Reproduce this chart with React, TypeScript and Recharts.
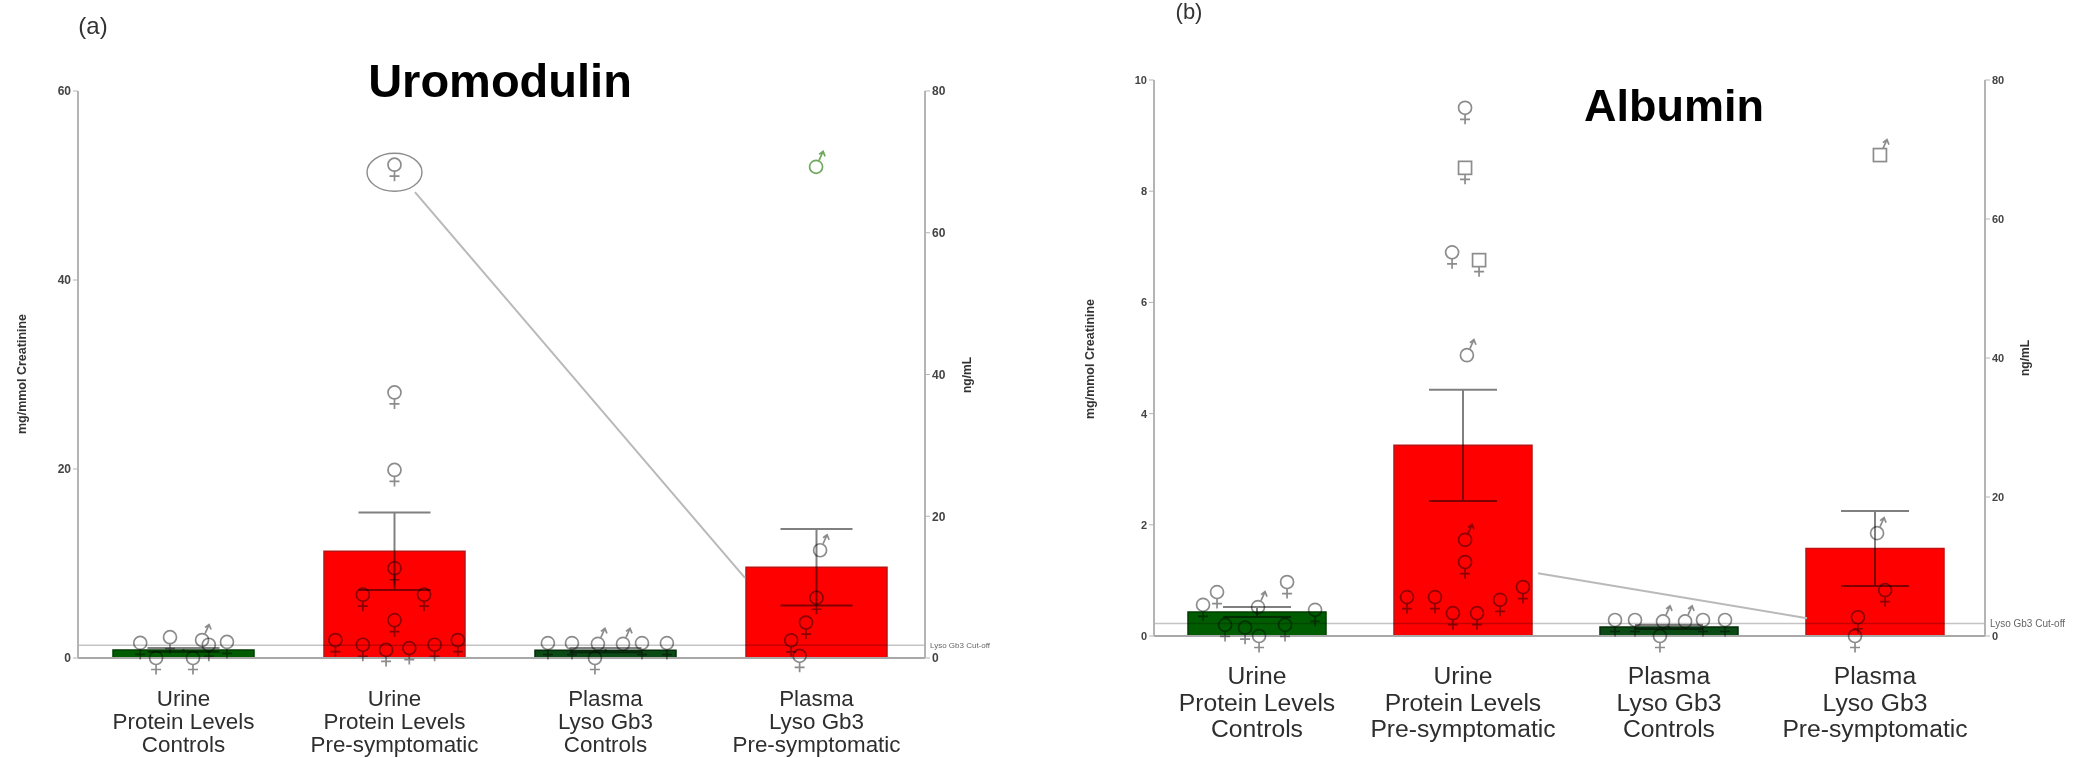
import {
  Bar,
  Cell,
  ComposedChart,
  ErrorBar,
  ReferenceLine,
  Scatter,
  XAxis,
  YAxis,
} from "recharts";

// ─── Data ────────────────────────────────────────────────────────────────────

const categories = [
  "Urine|Protein Levels|Controls",
  "Urine|Protein Levels|Pre-symptomatic",
  "Plasma|Lyso Gb3|Controls",
  "Plasma|Lyso Gb3|Pre-symptomatic",
];

// urine bars read on the left axis (mg/mmol creatinine), plasma on the right (ng/mL)
const aUrine = [0.85, 11.3, null, null];
const aUrineErr = [0.2, 4.1, null, null];
const aPlasma = [null, null, 1.1, 12.8];
const aPlasmaErr = [null, null, 0.3, 5.4];
const bUrine = [0.43, 3.43, null, null];
const bUrineErr = [0.09, 1.0, null, null];
const bPlasma = [null, null, 1.3, 12.6];
const bPlasmaErr = [null, null, 0.3, 5.4];

const cutoffValue = 1.8;

// individual patients: [position along the four groups, value]
type Pt = [number, number];

const aUrineFemale: Pt[] = [
  [0.295, 1.6], [0.436, 2.2], [0.706, 1.7], [0.37, 0], [0.545, 0], [0.62, 1.4],
  [1.5, 52.2], [1.5, 28.1], [1.5, 19.9], [1.5, 9.5], [1.35, 6.7], [1.64, 6.7], [1.5, 4],
  [1.22, 1.9], [1.35, 1.4], [1.46, 0.85], [1.57, 1.05], [1.69, 1.4], [1.8, 1.9],
];
const aUrineMale: Pt[] = [[0.588, 1.9]];
const aPlasmaFemale: Pt[] = [
  [2.227, 2.1], [2.341, 2.1], [2.673, 2.1], [2.791, 2.1], [2.45, 0],
  [3.5, 8.5], [3.45, 5], [3.38, 2.5], [3.42, 0.3],
];
const aPlasmaMale: Pt[] = [[2.464, 2.0], [2.583, 2.0], [3.517, 15.2]];
const aPlasmaHighlight: Pt[] = [[3.498, 69.3]];
const aCircled: Pt[] = [[1.5, 51.4]];
const aConnector: Pt[] = [[1.597, 49.3], [3.161, 8.47]];

const bUrineFemale: Pt[] = [
  [0.306, 0.79], [0.238, 0.56], [0.646, 0.97], [0.782, 0.47], [0.51, 0],
  [0.345, 0.2], [0.442, 0.15], [0.636, 0.2],
  [1.51, 9.5], [1.447, 6.9], [1.51, 1.33], [1.228, 0.7], [1.364, 0.7], [1.791, 0.88],
  [1.451, 0.41], [1.568, 0.41], [1.68, 0.65],
];
const bUrineFemaleSquare: Pt[] = [[1.51, 8.42], [1.578, 6.76]];
const bUrineMale: Pt[] = [[0.505, 0.52], [1.519, 5.05], [1.51, 1.73]];
const bPlasmaFemale: Pt[] = [
  [2.238, 2.3], [2.335, 2.3], [2.665, 2.3], [2.772, 2.3], [2.456, 0],
  [3.549, 6.6], [3.417, 2.7], [3.403, 0],
];
const bPlasmaMale: Pt[] = [[2.471, 2.1], [2.578, 2.1], [3.51, 14.8]];
const bPlasmaMaleSquare: Pt[] = [[3.524, 69.2]];
const bConnector: Pt[] = [[1.864, 1.13], [3.17, 0.32]];

const aLeftTicks = [0, 20, 40, 60];
const bLeftTicks = [0, 2, 4, 6, 8, 10];
const rightTicks = [0, 20, 40, 60, 80];

// ─── Helpers ─────────────────────────────────────────────────────────────────

const buildRows = (urine: any[], urineErr: any[], plasma: any[], plasmaErr: any[]) =>
  categories.map((name, i) => ({
    name,
    urine: urine[i],
    urineErr: urineErr[i],
    plasma: plasma[i],
    plasmaErr: plasmaErr[i],
  }));

const toPoints = (pts: Pt[]) => pts.map(([x, y]) => ({ x, y }));

const barColors = ["#005c00", "#ff0000", "#0a4a14", "#ff0000"];
const barEdges = ["#003d00", "#b81414", "#052b0a", "#c01010"];

// multiply keeps marks grey on white and turns them dark red / dark green on the bars
const overBars = { mixBlendMode: "multiply" as const };

// Venus / Mars glyphs, round or square head centred on the data point
function Glyph({ cx, cy, kind, square, color }: any) {
  const r = 6.5;
  const head = square ? (
    <rect x={cx - r} y={cy - r} width={r * 2} height={r * 2} fill="none" />
  ) : (
    <circle cx={cx} cy={cy} r={r} fill="none" />
  );
  return (
    <g stroke={color ?? "#8c8c8c"} strokeWidth={1.7} fill="none" style={overBars}>
      {head}
      {kind === "male" ? (
        <path d={`M${cx + 3} ${cy - r}L${cx + 7} ${cy - r - 9}M${cx + 3} ${cy - r - 6}L${cx + 7} ${cy - r - 9}L${cx + 9} ${cy - r - 4}`} />
      ) : (
        <path d={`M${cx} ${cy + r}V${cy + r + 10}M${cx - 5} ${cy + r + 5}H${cx + 5}`} />
      )}
    </g>
  );
}

const glyph = (kind: string, square = false, color?: string) => (p: any) =>
  <Glyph cx={p.cx} cy={p.cy} kind={kind} square={square} color={color} />;

const noShape = () => <g />;

function CategoryTick({ x, y, payload, fontSize, firstLine, lineHeight }: any) {
  const lines = String(payload.value).split("|");
  return (
    <text x={x} y={y + firstLine} textAnchor="middle" fontSize={fontSize} fill="#2e2e2e" fontFamily="Liberation Sans">
      {lines.map((line, i) => (
        <tspan key={line} x={x} dy={i === 0 ? 0 : lineHeight}>
          {line}
        </tspan>
      ))}
    </text>
  );
}

// Plain text sitting over the charts: titles, panel letters, axis captions
function Caption({ x, y, size, bold, rotate, color, children }: any) {
  return (
    <div
      style={{
        position: "absolute",
        left: x,
        top: y,
        transform: `translate(-50%, -50%)${rotate ? " rotate(-90deg)" : ""}`,
        fontFamily: "Liberation Sans",
        fontSize: size,
        fontWeight: bold ? 700 : 400,
        color: color ?? "#000",
        whiteSpace: "nowrap",
        lineHeight: 1,
      }}
    >
      {children}
    </div>
  );
}

function Panel({
  left,
  width,
  margin,
  rows,
  leftDomain,
  leftTicks,
  padRight,
  barSize,
  capWidth,
  tickFont,
  cutoffFont,
  catFont,
  firstLine,
  lineHeight,
  xHeight,
  series,
}: any) {
  return (
    <div style={{ position: "absolute", left, top: 0 }}>
      <ComposedChart width={width} height={758} data={rows} margin={margin}>
        <XAxis
          xAxisId="cat"
          dataKey="name"
          interval={0}
          height={xHeight}
          padding={{ left: 0, right: padRight }}
          tickSize={0}
          tickMargin={0}
          axisLine={{ stroke: "#a8a8a8", strokeWidth: 2 }}
          tick={<CategoryTick fontSize={catFont} firstLine={firstLine} lineHeight={lineHeight} />}
        />
        <XAxis xAxisId="pos" type="number" dataKey="x" domain={[0, 4]} padding={{ left: 0, right: padRight }} hide />
        <YAxis
          yAxisId="left"
          width={30}
          domain={leftDomain}
          ticks={leftTicks}
          interval={0}
          tickSize={5}
          tickMargin={2}
          axisLine={{ stroke: "#b4b4b4", strokeWidth: 2 }}
          tickLine={{ stroke: "#b4b4b4" }}
          tick={{ fontSize: tickFont, fill: "#444", fontFamily: "Liberation Sans", fontWeight: 700 }}
        />
        <YAxis
          yAxisId="right"
          orientation="right"
          width={30}
          domain={[0, 80]}
          ticks={rightTicks}
          interval={0}
          tickSize={5}
          tickMargin={2}
          axisLine={{ stroke: "#b4b4b4", strokeWidth: 2 }}
          tickLine={{ stroke: "#b4b4b4" }}
          tick={{ fontSize: tickFont, fill: "#444", fontFamily: "Liberation Sans", fontWeight: 700 }}
        />
        <ReferenceLine
          xAxisId="cat"
          yAxisId="right"
          y={cutoffValue}
          stroke="#c4c4c4"
          strokeWidth={1.5}
          style={overBars}
          label={{
            value: "Lyso Gb3 Cut-off",
            position: "right",
            fontSize: cutoffFont,
            fill: "#666",
            fontFamily: "Liberation Sans",
          }}
        />
        <Bar
          xAxisId="cat"
          yAxisId="left"
          dataKey="urine"
          stackId="groups"
          barSize={barSize}
          strokeWidth={1.5}
          isAnimationActive={false}
        >
          {rows.map((r: any, i: number) => (
            <Cell key={r.name} fill={barColors[i]} stroke={barEdges[i]} />
          ))}
          <ErrorBar dataKey="urineErr" width={capWidth} stroke="#808080" strokeWidth={2} style={overBars} />
        </Bar>
        <Bar
          xAxisId="cat"
          yAxisId="right"
          dataKey="plasma"
          stackId="groups"
          barSize={barSize}
          strokeWidth={1.5}
          isAnimationActive={false}
        >
          {rows.map((r: any, i: number) => (
            <Cell key={r.name} fill={barColors[i]} stroke={barEdges[i]} />
          ))}
          <ErrorBar dataKey="plasmaErr" width={capWidth} stroke="#808080" strokeWidth={2} style={overBars} />
        </Bar>
        {series.map((s: any) => (
          <Scatter
            key={s.id}
            xAxisId="pos"
            yAxisId={s.axis}
            data={toPoints(s.points)}
            dataKey="y"
            line={s.line}
            shape={s.shape}
            isAnimationActive={false}
          />
        ))}
      </ComposedChart>
    </div>
  );
}

const connectorLine = { stroke: "#b9b9b9", strokeWidth: 2 };

const seriesA = [
  { id: "link", axis: "left", points: aConnector, line: connectorLine, shape: noShape },
  {
    id: "circled",
    axis: "left",
    points: aCircled,
    shape: (p: any) => <ellipse cx={p.cx} cy={p.cy} rx={27.5} ry={19} fill="none" stroke="#8c8c8c" strokeWidth={1.4} />,
  },
  { id: "uf", axis: "left", points: aUrineFemale, shape: glyph("female") },
  { id: "um", axis: "left", points: aUrineMale, shape: glyph("male") },
  { id: "pf", axis: "right", points: aPlasmaFemale, shape: glyph("female") },
  { id: "pm", axis: "right", points: aPlasmaMale, shape: glyph("male") },
  { id: "hl", axis: "right", points: aPlasmaHighlight, shape: glyph("male", false, "#6fa85f") },
];

const seriesB = [
  { id: "link", axis: "left", points: bConnector, line: connectorLine, shape: noShape },
  { id: "uf", axis: "left", points: bUrineFemale, shape: glyph("female") },
  { id: "ufs", axis: "left", points: bUrineFemaleSquare, shape: glyph("female", true) },
  { id: "um", axis: "left", points: bUrineMale, shape: glyph("male") },
  { id: "pf", axis: "right", points: bPlasmaFemale, shape: glyph("female") },
  { id: "pm", axis: "right", points: bPlasmaMale, shape: glyph("male") },
  { id: "pms", axis: "right", points: bPlasmaMaleSquare, shape: glyph("male", true) },
];

export default function App() {
  return (
    <div
      style={{
        position: "absolute",
        left: 0,
        top: 0,
        width: 2093,
        height: 758,
        overflow: "hidden",
        background: "#fff",
        filter: "blur(0.6px)",
      }}
    >
      <Panel
        left={0}
        width={1040}
        margin={{ top: 91, right: 85, bottom: 10, left: 48 }}
        rows={buildRows(aUrine, aUrineErr, aPlasma, aPlasmaErr)}
        leftDomain={[0, 60]}
        leftTicks={aLeftTicks}
        padRight={3}
        barSize={141}
        capWidth={36}
        tickFont={12}
        cutoffFont={8}
        catFont={22.4}
        firstLine={48}
        lineHeight={23}
        xHeight={90}
        series={seriesA}
      />
      <Panel
        left={1040}
        width={1053}
        margin={{ top: 80, right: 78, bottom: 12, left: 84 }}
        rows={buildRows(bUrine, bUrineErr, bPlasma, bPlasmaErr)}
        leftDomain={[0, 10]}
        leftTicks={bLeftTicks}
        padRight={7}
        barSize={138}
        capWidth={34}
        tickFont={11}
        cutoffFont={10}
        catFont={24.7}
        firstLine={48}
        lineHeight={26.5}
        xHeight={110}
        series={seriesB}
      />

      <Caption x={93} y={26} size={24} color="#333">(a)</Caption>
      <Caption x={1189} y={12} size={22} color="#333">(b)</Caption>
      <Caption x={500} y={80} size={47} bold>Uromodulin</Caption>
      <Caption x={1674} y={105} size={45} bold>Albumin</Caption>
      <Caption x={22} y={374} size={12.5} bold rotate color="#333">mg/mmol Creatinine</Caption>
      <Caption x={967} y={375} size={12} bold rotate color="#333">ng/mL</Caption>
      <Caption x={1090} y={359} size={12.5} bold rotate color="#333">mg/mmol Creatinine</Caption>
      <Caption x={2025} y={358} size={12} bold rotate color="#333">ng/mL</Caption>
    </div>
  );
}
